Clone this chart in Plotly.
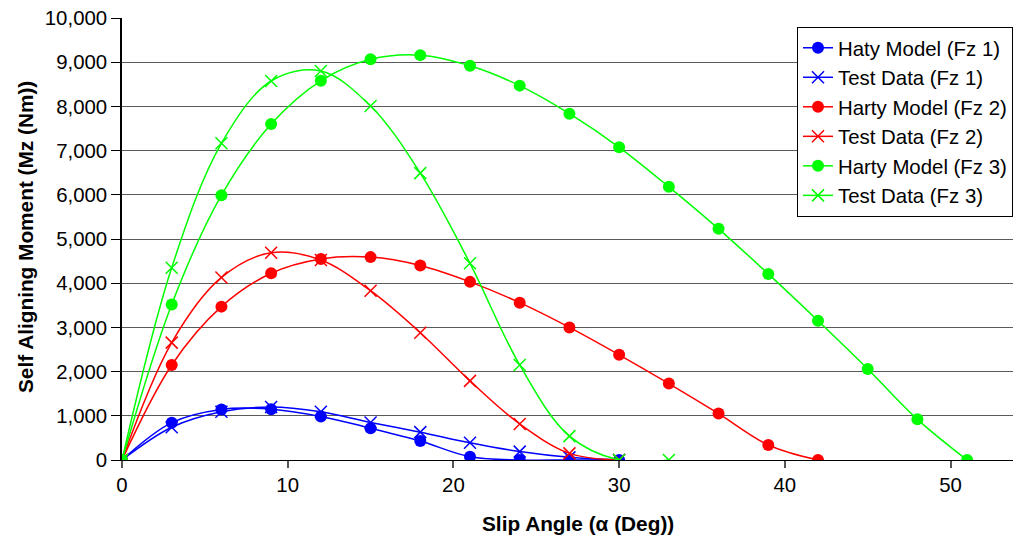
import plotly.graph_objects as go

# Slip angles (deg)
slip_model_fz1 = [0, 3, 6, 9, 12, 15, 18, 21, 24, 27, 30]
slip_test_fz1 = [0, 3, 6, 9, 12, 15, 18, 21, 24, 27, 30]
slip_model_fz2 = [0, 3, 6, 9, 12, 15, 18, 21, 24, 27, 30, 33, 36, 39, 42]
slip_test_fz2 = [0, 3, 6, 9, 12, 15, 18, 21, 24, 27, 30]
slip_model_fz3 = [0, 3, 6, 9, 12, 15, 18, 21, 24, 27, 30, 33, 36, 39, 42, 45, 48, 51]
slip_test_fz3 = [0, 3, 6, 9, 12, 15, 18, 21, 24, 27, 30, 33]

# Self aligning moment (Nm)
mz_model_fz1 = [0, 845, 1145, 1150, 985, 720, 430, 75, 0, 0, 0]
mz_test_fz1 = [0, 740, 1090, 1200, 1090, 850, 630, 390, 190, 60, 0]
mz_model_fz2 = [0, 2150, 3470, 4225, 4550, 4590, 4400, 4030, 3560, 3000, 2380, 1730, 1050, 340, 0]
mz_test_fz2 = [0, 2655, 4130, 4690, 4525, 3830, 2880, 1790, 815, 150, 0]
mz_model_fz3 = [0, 3520, 5990, 7600, 8580, 9065, 9160, 8920, 8470, 7835, 7075, 6180, 5230, 4210, 3150, 2060, 920, 0]
mz_test_fz3 = [0, 4350, 7165, 8575, 8800, 8010, 6490, 4450, 2150, 540, 0, 0]

names = ["Haty Model (Fz 1)", "Test Data (Fz 1)", "Harty Model (Fz 2)",
         "Test Data (Fz 2)", "Harty Model (Fz 3)", "Test Data (Fz 3)"]

x_ticks = [0, 10, 20, 30, 40, 50]
y_ticks = [0, 1000, 2000, 3000, 4000, 5000, 6000, 7000, 8000, 9000, 10000]

BLUE, RED, GREEN = "#0000FF", "#FF0000", "#00FF00"
FONT = "Liberation Sans, Arial, sans-serif"

series = [
    (slip_model_fz1, mz_model_fz1, names[0], BLUE, "model"),
    (slip_test_fz1, mz_test_fz1, names[1], BLUE, "test"),
    (slip_model_fz2, mz_model_fz2, names[2], RED, "model"),
    (slip_test_fz2, mz_test_fz2, names[3], RED, "test"),
    (slip_model_fz3, mz_model_fz3, names[4], GREEN, "model"),
    (slip_test_fz3, mz_test_fz3, names[5], GREEN, "test"),
]

fig = go.Figure()
for xs, ys, nm, col, kind in series:
    if kind == "model":
        marker = dict(symbol="circle", size=12, color=col, line=dict(width=0))
    else:
        marker = dict(symbol="x-thin", size=12, color=col, line=dict(width=1.5, color=col))
    fig.add_trace(go.Scatter(
        x=xs, y=ys, name=nm, mode="lines+markers",
        line=dict(color=col, width=1.5, shape="spline", smoothing=1),
        marker=marker,
    ))

# page body has an 8px margin; the figure is sized so it ends at the window edge
fig.update_layout(
    width=1013, height=537,
    margin=dict(l=114, r=0, t=10, b=85),
    paper_bgcolor="white", plot_bgcolor="white",
    font=dict(family=FONT, size=20, color="black"),
    showlegend=True,
    legend=dict(
        x=(797 - 122) / 899, y=(460 - 27) / 442, xanchor="left", yanchor="top",
        bgcolor="white", bordercolor="black", borderwidth=1,
        font=dict(family=FONT, size=20.4, color="black"),
    ),
    xaxis=dict(
        range=[0, 54.25], tickvals=x_ticks, ticktext=[str(v) for v in x_ticks],
        showgrid=False, zeroline=False, automargin=False,
        showline=True, linecolor="black", linewidth=1,
        ticks="outside", ticklen=7, tickcolor="#555", tickwidth=1.5,
        tickfont=dict(size=20.4), ticklabeloverflow="allow",
    ),
    yaxis=dict(
        range=[0, 10000], tickvals=y_ticks, tickformat=",",
        showgrid=True, gridcolor="#5a5a5a", gridwidth=1.4,
        zeroline=False, automargin=False,
        showline=True, linecolor="black", linewidth=1.5,
        ticks="outside", ticklen=9, tickcolor="black", tickwidth=1,
        tickfont=dict(size=20.4), ticklabeloverflow="allow",
    ),
    annotations=[
        dict(
            text="<b>Slip Angle (α (Deg))</b>", xref="paper", yref="paper",
            x=(578 - 122) / 899, y=-(523 - 460) / 442, xanchor="center", yanchor="middle",
            showarrow=False, font=dict(size=20.8, family=FONT),
        ),
        dict(
            text="<b>Self Aligning Moment (Mz (Nm))</b>", xref="paper", yref="paper",
            x=-(122 - 25) / 899, y=(460 - 237) / 442, xanchor="center", yanchor="middle",
            textangle=-90, showarrow=False, font=dict(size=20.8, family=FONT),
        ),
    ],
)

fig.write_html("out.html")
